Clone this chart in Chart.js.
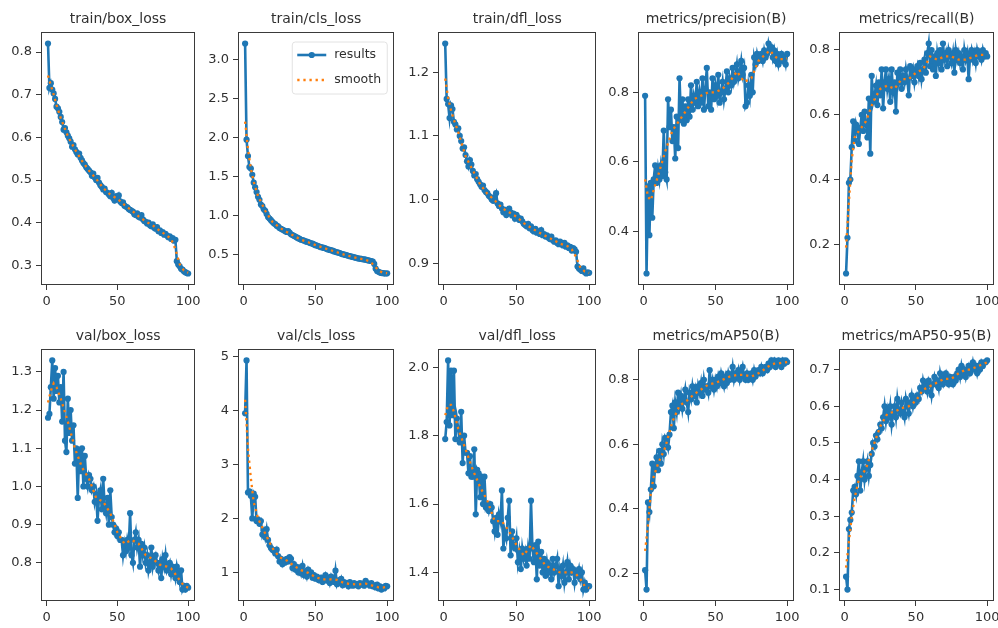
<!DOCTYPE html>
<html>
<head>
<meta charset="utf-8">
<script src="https://cdn.jsdelivr.net/npm/chart.js@4.4.1/dist/chart.umd.min.js"></script>
<style>
html,body{margin:0;padding:0;background:#fff;width:998px;height:628px;overflow:hidden;position:relative;}
.p{position:absolute;}
canvas{display:block;}
</style>
</head>
<body>
<script>
// ---------------- DATA ----------------
const epochs = [1,2,3,4,5,6,7,8,9,10,11,12,13,14,15,16,17,18,19,20,
  21,22,23,24,25,26,27,28,29,30,31,32,33,34,35,36,37,38,39,40,
  41,42,43,44,45,46,47,48,49,50,51,52,53,54,55,56,57,58,59,60,
  61,62,63,64,65,66,67,68,69,70,71,72,73,74,75,76,77,78,79,80,
  81,82,83,84,85,86,87,88,89,90,91,92,93,94,95,96,97,98,99,100];

const trainBoxLoss = [0.820,0.716,0.727,0.712,0.703,0.690,0.672,0.668,0.660,0.648,
  0.636,0.618,0.622,0.612,0.604,0.598,0.590,0.578,0.582,0.572,
  0.566,0.560,0.562,0.552,0.546,0.540,0.536,0.530,0.526,0.522,
  0.518,0.510,0.515,0.506,0.500,0.505,0.494,0.488,0.484,0.478,
  0.480,0.472,0.470,0.466,0.462,0.470,0.458,0.452,0.462,0.455,
  0.464,0.450,0.446,0.448,0.440,0.438,0.436,0.432,0.430,0.428,
  0.426,0.420,0.418,0.422,0.414,0.412,0.418,0.408,0.404,0.402,
  0.398,0.400,0.394,0.392,0.396,0.388,0.386,0.390,0.380,0.382,
  0.376,0.378,0.372,0.374,0.370,0.366,0.368,0.362,0.364,0.358,
  0.360,0.310,0.302,0.298,0.292,0.290,0.286,0.284,0.282,0.281];

const trainClsLoss = [3.20,1.97,1.76,1.62,1.60,1.52,1.42,1.36,1.30,1.24,
  1.20,1.14,1.12,1.08,1.06,1.02,0.98,0.96,0.94,0.92,
  0.90,0.89,0.87,0.86,0.84,0.83,0.82,0.81,0.80,0.79,
  0.80,0.78,0.76,0.75,0.74,0.73,0.72,0.71,0.70,0.69,
  0.685,0.68,0.67,0.665,0.66,0.65,0.645,0.64,0.63,0.62,
  0.615,0.61,0.60,0.595,0.59,0.585,0.58,0.57,0.565,0.56,
  0.555,0.55,0.54,0.535,0.53,0.525,0.52,0.51,0.505,0.50,
  0.495,0.49,0.485,0.48,0.475,0.47,0.465,0.46,0.455,0.45,
  0.448,0.445,0.44,0.438,0.435,0.43,0.425,0.42,0.418,0.41,
  0.38,0.32,0.29,0.28,0.27,0.265,0.262,0.26,0.258,0.26];

const trainDflLoss = [1.245,1.158,1.150,1.128,1.148,1.142,1.122,1.118,1.110,1.112,
  1.100,1.092,1.080,1.082,1.070,1.060,1.052,1.062,1.055,1.045,
  1.038,1.040,1.032,1.028,1.024,1.020,1.022,1.015,1.012,1.010,
  1.006,1.004,1.000,0.998,1.004,1.010,0.994,0.990,0.992,0.986,
  0.980,0.984,0.976,0.982,0.986,0.980,0.975,0.978,0.970,0.976,
  0.972,0.968,0.970,0.966,0.962,0.960,0.958,0.962,0.955,0.958,
  0.952,0.950,0.954,0.948,0.950,0.946,0.952,0.944,0.946,0.942,
  0.944,0.940,0.938,0.942,0.936,0.934,0.936,0.932,0.930,0.934,
  0.930,0.928,0.932,0.926,0.928,0.924,0.926,0.920,0.924,0.922,
  0.918,0.895,0.892,0.890,0.888,0.892,0.886,0.884,0.886,0.885];

const precisionB = [0.79,0.28,0.53,0.39,0.54,0.44,0.55,0.59,0.54,0.58,
  0.55,0.59,0.56,0.69,0.57,0.55,0.78,0.70,0.75,0.66,
  0.70,0.61,0.73,0.64,0.84,0.72,0.78,0.71,0.76,0.72,
  0.78,0.73,0.82,0.75,0.79,0.77,0.83,0.76,0.80,0.77,
  0.84,0.75,0.81,0.87,0.76,0.80,0.75,0.84,0.78,0.82,
  0.79,0.85,0.77,0.80,0.83,0.78,0.81,0.86,0.80,0.84,
  0.82,0.87,0.83,0.85,0.88,0.84,0.86,0.89,0.85,0.87,
  0.76,0.77,0.82,0.79,0.85,0.80,0.90,0.88,0.91,0.89,
  0.90,0.91,0.89,0.92,0.90,0.91,0.94,0.92,0.93,0.90,
  0.92,0.89,0.91,0.88,0.90,0.91,0.89,0.90,0.88,0.91];

const recallB = [0.11,0.22,0.39,0.40,0.50,0.58,0.52,0.57,0.55,0.51,
  0.56,0.60,0.55,0.61,0.57,0.53,0.65,0.48,0.72,0.64,
  0.66,0.69,0.63,0.70,0.66,0.74,0.62,0.70,0.74,0.68,
  0.71,0.64,0.74,0.67,0.70,0.61,0.73,0.70,0.74,0.68,
  0.72,0.70,0.74,0.71,0.66,0.75,0.72,0.74,0.70,0.73,
  0.75,0.72,0.76,0.71,0.74,0.77,0.73,0.79,0.82,0.75,
  0.80,0.74,0.78,0.72,0.79,0.76,0.80,0.74,0.82,0.77,
  0.79,0.75,0.80,0.78,0.76,0.79,0.73,0.80,0.77,0.79,
  0.76,0.78,0.74,0.80,0.77,0.79,0.71,0.78,0.80,0.77,
  0.79,0.76,0.80,0.78,0.79,0.77,0.80,0.78,0.79,0.78];

const valBoxLoss = [1.18,1.19,1.26,1.33,1.23,1.31,1.25,1.29,1.22,1.26,
  1.17,1.30,1.12,1.09,1.23,1.14,1.20,1.12,1.16,1.06,
  1.10,0.97,1.09,1.04,1.10,1.00,1.08,1.02,1.00,1.03,
  1.02,0.99,1.00,0.96,0.98,0.91,0.97,0.99,0.94,1.02,
  0.95,0.93,0.97,0.90,0.99,0.92,0.90,0.88,0.89,0.87,
  0.88,0.86,0.86,0.82,0.85,0.83,0.86,0.84,0.93,0.82,
  0.80,0.86,0.88,0.84,0.86,0.79,0.85,0.82,0.84,0.80,
  0.82,0.78,0.80,0.84,0.79,0.81,0.82,0.80,0.78,0.80,
  0.76,0.81,0.79,0.82,0.78,0.79,0.80,0.77,0.79,0.78,
  0.76,0.79,0.77,0.75,0.78,0.73,0.74,0.73,0.74,0.735];

const valClsLoss = [3.95,4.93,2.48,2.50,2.42,2.00,2.46,2.40,1.95,1.98,
  1.90,1.95,1.70,1.78,1.65,1.80,1.60,1.50,1.45,1.42,
  1.40,1.35,1.42,1.30,1.20,1.25,1.15,1.22,1.18,1.25,
  1.20,1.28,1.25,1.08,1.15,1.05,1.10,1.00,1.08,0.98,
  1.12,0.95,1.02,0.92,1.05,0.98,1.00,0.90,0.95,0.88,
  0.92,0.86,0.85,0.90,0.82,0.88,0.95,0.85,0.90,0.80,
  0.92,0.85,0.82,1.03,0.78,0.85,0.80,0.88,0.76,0.82,
  0.78,0.80,0.74,0.82,0.78,0.75,0.80,0.76,0.78,0.74,
  0.80,0.77,0.79,0.75,0.84,0.80,0.78,0.75,0.80,0.74,
  0.76,0.72,0.77,0.70,0.74,0.68,0.72,0.70,0.75,0.74];

const valDflLoss = [1.79,1.84,2.02,1.83,1.99,1.86,1.99,1.79,1.85,1.82,
  1.78,1.87,1.72,1.80,1.75,1.75,1.69,1.74,1.68,1.68,
  1.76,1.57,1.70,1.69,1.62,1.68,1.60,1.68,1.59,1.60,
  1.58,1.60,1.59,1.55,1.52,1.56,1.51,1.57,1.55,1.64,
  1.47,1.52,1.50,1.56,1.61,1.45,1.52,1.48,1.47,1.50,
  1.43,1.46,1.41,1.47,1.44,1.46,1.42,1.47,1.44,1.61,
  1.47,1.43,1.48,1.38,1.49,1.42,1.46,1.40,1.44,1.39,
  1.43,1.40,1.42,1.38,1.44,1.40,1.42,1.44,1.36,1.41,
  1.39,1.42,1.37,1.40,1.43,1.38,1.42,1.40,1.41,1.37,
  1.40,1.39,1.41,1.38,1.40,1.35,1.37,1.35,1.36,1.36];

const mAP50B = [0.21,0.15,0.42,0.39,0.46,0.54,0.47,0.53,0.56,0.52,
  0.58,0.54,0.60,0.57,0.62,0.61,0.59,0.63,0.70,0.72,
  0.65,0.73,0.70,0.76,0.72,0.75,0.71,0.74,0.77,0.73,
  0.70,0.76,0.74,0.78,0.75,0.77,0.73,0.78,0.76,0.79,
  0.75,0.80,0.77,0.78,0.76,0.83,0.78,0.80,0.77,0.80,
  0.78,0.81,0.79,0.82,0.80,0.78,0.81,0.79,0.82,0.80,
  0.81,0.84,0.80,0.82,0.81,0.83,0.80,0.82,0.84,0.81,
  0.80,0.82,0.80,0.81,0.82,0.80,0.83,0.81,0.82,0.83,
  0.82,0.84,0.82,0.83,0.84,0.83,0.85,0.84,0.86,0.85,
  0.86,0.84,0.85,0.86,0.85,0.84,0.86,0.85,0.86,0.855];

const mAP5095B = [0.135,0.10,0.265,0.29,0.31,0.37,0.38,0.36,0.41,0.45,
  0.37,0.42,0.45,0.40,0.43,0.45,0.41,0.44,0.47,0.50,
  0.49,0.52,0.51,0.53,0.55,0.54,0.57,0.60,0.56,0.59,
  0.57,0.60,0.55,0.58,0.60,0.57,0.62,0.59,0.58,0.61,
  0.59,0.57,0.62,0.60,0.58,0.61,0.63,0.60,0.62,0.61,
  0.63,0.62,0.65,0.64,0.67,0.65,0.66,0.64,0.67,0.66,
  0.63,0.66,0.68,0.66,0.67,0.65,0.69,0.67,0.66,0.68,
  0.69,0.67,0.66,0.68,0.67,0.66,0.68,0.67,0.69,0.70,
  0.68,0.71,0.69,0.70,0.68,0.70,0.71,0.69,0.70,0.72,
  0.70,0.71,0.69,0.71,0.70,0.72,0.71,0.72,0.72,0.725];

// smoothed curves, read at these epochs
const smoothEpochs = [1,3,5,7,10,15,20,25,30,35,40,45,50,55,60,65,70,75,80,85,88,91,94,97,100];
const trainBoxLossSmooth = [0.745,0.722,0.700,0.676,0.645,0.603,0.572,0.545,0.522,0.503,0.481,0.466,0.456,0.442,0.429,0.415,0.403,0.394,0.381,0.370,0.362,0.338,0.303,0.288,0.283];
const trainClsLossSmooth = [2.20,1.85,1.60,1.43,1.25,1.06,0.92,0.845,0.79,0.74,0.69,0.658,0.622,0.59,0.56,0.53,0.50,0.475,0.452,0.433,0.41,0.36,0.295,0.268,0.262];
const trainDflLossSmooth = [1.190,1.160,1.140,1.125,1.106,1.068,1.046,1.024,1.009,0.999,0.987,0.980,0.973,0.963,0.956,0.949,0.943,0.937,0.931,0.927,0.922,0.910,0.893,0.887,0.885];
const precisionBSmooth = [0.55,0.50,0.49,0.52,0.56,0.63,0.69,0.72,0.75,0.78,0.79,0.80,0.80,0.81,0.83,0.86,0.83,0.84,0.89,0.91,0.92,0.905,0.895,0.895,0.897];
const recallBSmooth = [0.19,0.33,0.46,0.53,0.55,0.58,0.64,0.68,0.69,0.68,0.71,0.71,0.73,0.74,0.78,0.77,0.78,0.78,0.77,0.77,0.775,0.78,0.785,0.785,0.785];
const valBoxLossSmooth = [1.22,1.25,1.27,1.26,1.23,1.17,1.10,1.05,1.02,0.97,0.96,0.93,0.88,0.85,0.86,0.85,0.82,0.81,0.795,0.79,0.785,0.77,0.755,0.74,0.735];
const valClsLossSmooth = [4.20,3.30,2.75,2.30,2.00,1.72,1.45,1.28,1.22,1.12,1.04,0.99,0.91,0.87,0.87,0.86,0.80,0.78,0.775,0.79,0.77,0.74,0.72,0.715,0.73];
const valDflLossSmooth = [1.86,1.89,1.89,1.87,1.82,1.76,1.70,1.65,1.61,1.55,1.55,1.52,1.48,1.45,1.48,1.45,1.42,1.41,1.40,1.40,1.40,1.395,1.38,1.36,1.355];
const mAP50BSmooth = [0.27,0.35,0.45,0.50,0.54,0.59,0.67,0.72,0.735,0.755,0.77,0.785,0.79,0.80,0.81,0.815,0.815,0.81,0.82,0.835,0.845,0.85,0.851,0.853,0.855];
const mAP5095BSmooth = [0.16,0.23,0.30,0.35,0.40,0.43,0.49,0.545,0.58,0.585,0.595,0.60,0.615,0.645,0.655,0.665,0.675,0.675,0.69,0.70,0.70,0.705,0.71,0.715,0.72];

// tick values and labels
const xTickValues = [0,50,100];
const xTickLabels = ['0','50','100'];
const trainBoxTicks = [0.3,0.4,0.5,0.6,0.7,0.8];
const trainBoxTickLabels = ['0.3','0.4','0.5','0.6','0.7','0.8'];
const trainClsTicks = [0.5,1.0,1.5,2.0,2.5,3.0];
const trainClsTickLabels = ['0.5','1.0','1.5','2.0','2.5','3.0'];
const trainDflTicks = [0.9,1.0,1.1,1.2];
const trainDflTickLabels = ['0.9','1.0','1.1','1.2'];
const precisionTicks = [0.4,0.6,0.8];
const precisionTickLabels = ['0.4','0.6','0.8'];
const recallTicks = [0.2,0.4,0.6,0.8];
const recallTickLabels = ['0.2','0.4','0.6','0.8'];
const valBoxTicks = [0.8,0.9,1.0,1.1,1.2,1.3];
const valBoxTickLabels = ['0.8','0.9','1.0','1.1','1.2','1.3'];
const valClsTicks = [1,2,3,4,5];
const valClsTickLabels = ['1','2','3','4','5'];
const valDflTicks = [1.4,1.6,1.8,2.0];
const valDflTickLabels = ['1.4','1.6','1.8','2.0'];
const mAP50Ticks = [0.2,0.4,0.6,0.8];
const mAP50TickLabels = ['0.2','0.4','0.6','0.8'];
const mAP5095Ticks = [0.1,0.2,0.3,0.4,0.5,0.6,0.7];
const mAP5095TickLabels = ['0.1','0.2','0.3','0.4','0.5','0.6','0.7'];

const titles = ['train/box_loss','train/cls_loss','train/dfl_loss','metrics/precision(B)','metrics/recall(B)',
  'val/box_loss','val/cls_loss','val/dfl_loss','metrics/mAP50(B)','metrics/mAP50-95(B)'];
const legendLabels = ['results','smooth'];

// ---------------- LAYOUT / STYLE ----------------
const BLUE = '#1f77b4', ORANGE = '#ff7f0e', TXT = '#303030', AX = '#3a3a3a';
const FONT = "'DejaVu Sans', sans-serif";
Chart.defaults.font.family = FONT;
Chart.defaults.color = TXT;

const PAD_L = 46, PAD_T = 30, PAD_B = 30, PAD_R = 14;
const colX = [[41,150],[238,152],[438,154],[638,152],[839,151]];
const rowY = [[32,253],[349,252]];

const panels = [
  {v: trainBoxLoss, s: trainBoxLossSmooth, t: trainBoxTicks, l: trainBoxTickLabels},
  {v: trainClsLoss, s: trainClsLossSmooth, t: trainClsTicks, l: trainClsTickLabels, legend: true},
  {v: trainDflLoss, s: trainDflLossSmooth, t: trainDflTicks, l: trainDflTickLabels},
  {v: precisionB, s: precisionBSmooth, t: precisionTicks, l: precisionTickLabels},
  {v: recallB, s: recallBSmooth, t: recallTicks, l: recallTickLabels},
  {v: valBoxLoss, s: valBoxLossSmooth, t: valBoxTicks, l: valBoxTickLabels},
  {v: valClsLoss, s: valClsLossSmooth, t: valClsTicks, l: valClsTickLabels},
  {v: valDflLoss, s: valDflLossSmooth, t: valDflTicks, l: valDflTickLabels},
  {v: mAP50B, s: mAP50BSmooth, t: mAP50Ticks, l: mAP50TickLabels},
  {v: mAP5095B, s: mAP5095BSmooth, t: mAP5095Ticks, l: mAP5095TickLabels}
];

const frameBox = {
  id: 'frameBox',
  afterDraw(chart) {
    const a = chart.chartArea, c = chart.ctx;
    c.save();
    c.strokeStyle = AX; c.lineWidth = 1;
    c.strokeRect(Math.round(a.left) + 0.5, Math.round(a.top) + 0.5,
                 Math.round(a.right - a.left) - 1, Math.round(a.bottom - a.top) - 1);
    c.restore();
  }
};

const insideLegend = {
  id: 'insideLegend',
  afterDraw(chart, args, opts) {
    if (!opts || !opts.show) return;
    const a = chart.chartArea, c = chart.ctx;
    const x0 = a.right - 102, y0 = a.top + 10, w = 95, h = 52, r = 3;
    c.save();
    c.beginPath();
    c.moveTo(x0 + r, y0); c.lineTo(x0 + w - r, y0); c.quadraticCurveTo(x0 + w, y0, x0 + w, y0 + r);
    c.lineTo(x0 + w, y0 + h - r); c.quadraticCurveTo(x0 + w, y0 + h, x0 + w - r, y0 + h);
    c.lineTo(x0 + r, y0 + h); c.quadraticCurveTo(x0, y0 + h, x0, y0 + h - r);
    c.lineTo(x0, y0 + r); c.quadraticCurveTo(x0, y0, x0 + r, y0);
    c.closePath();
    c.fillStyle = 'rgba(255,255,255,0.8)'; c.fill();
    c.strokeStyle = '#e2e2e2'; c.lineWidth = 1; c.stroke();
    const lx0 = x0 + 5, lx1 = x0 + 34, y1 = y0 + 13, y2 = y0 + 38;
    c.strokeStyle = BLUE; c.lineWidth = 2.6;
    c.beginPath(); c.moveTo(lx0, y1); c.lineTo(lx1, y1); c.stroke();
    c.fillStyle = BLUE; c.beginPath(); c.arc((lx0 + lx1) / 2, y1, 3.1, 0, Math.PI * 2); c.fill();
    c.strokeStyle = ORANGE; c.lineWidth = 2.3; c.setLineDash([2.3, 3.8]);
    c.beginPath(); c.moveTo(lx0, y2); c.lineTo(lx1, y2); c.stroke();
    c.setLineDash([]);
    c.fillStyle = TXT; c.font = "12.5px " + FONT; c.textBaseline = 'middle'; c.textAlign = 'left';
    c.fillText(legendLabels[0], x0 + 42, y1);
    c.fillText(legendLabels[1], x0 + 42, y2);
    c.restore();
  }
};

function labelFor(ticks, labels) {
  return function (value) {
    const i = ticks.findIndex(t => Math.abs(t - value) < 1e-9);
    return i >= 0 ? labels[i] : '';
  };
}

panels.forEach((p, k) => {
  const col = colX[k % 5], row = rowY[Math.floor(k / 5)];
  const W = col[1] + PAD_L + PAD_R, H = row[1] + PAD_T + PAD_B;
  const div = document.createElement('div');
  div.className = 'p';
  div.style.left = (col[0] - PAD_L) + 'px';
  div.style.top = (row[0] - PAD_T) + 'px';
  const cv = document.createElement('canvas');
  cv.width = W; cv.height = H;
  cv.style.width = W + 'px'; cv.style.height = H + 'px';
  div.appendChild(cv);
  document.body.appendChild(div);

  const all = p.v.concat(p.s);
  const lo = Math.min(...all), hi = Math.max(...all), span = hi - lo;

  new Chart(cv, {
    type: 'line',
    data: {
      datasets: [
        { label: legendLabels[1], data: smoothEpochs.map((e, i) => ({x: e, y: p.s[i]})),
          borderColor: ORANGE, backgroundColor: ORANGE, borderWidth: 2.3, borderDash: [2.3, 3.8],
          borderCapStyle: 'butt', pointRadius: 0, pointHoverRadius: 0, tension: 0, fill: false },
        { label: legendLabels[0], data: epochs.map((e, i) => ({x: e, y: p.v[i]})),
          borderColor: BLUE, backgroundColor: BLUE, borderWidth: 2.6,
          pointRadius: 3.1, pointBorderWidth: 0, pointHoverRadius: 0, tension: 0, fill: false }
      ]
    },
    options: {
      responsive: false, animation: false, maintainAspectRatio: false,
      devicePixelRatio: 1,
      events: [],
      layout: { padding: 0 },
      plugins: {
        legend: { display: false },
        tooltip: { enabled: false },
        title: { display: true, text: titles[k], fullSize: false, color: TXT,
                 font: { family: FONT, size: 14, weight: 'normal', lineHeight: '16px' },
                 padding: { top: 9, bottom: 5 } },
        insideLegend: { show: !!p.legend }
      },
      scales: {
        x: {
          type: 'linear', min: -3.95, max: 104.95,
          afterBuildTicks: s => { s.ticks = xTickValues.map(v => ({value: v})); },
          afterFit: s => { s.height = PAD_B; },
          ticks: { callback: labelFor(xTickValues, xTickLabels), font: { family: FONT, size: 13 }, color: TXT, padding: 4, maxRotation: 0 },
          grid: { display: true, drawOnChartArea: false, drawTicks: true, tickLength: 5, tickColor: AX, tickWidth: 1 },
          border: { display: false }
        },
        y: {
          type: 'linear', min: lo - 0.05 * span, max: hi + 0.05 * span,
          afterBuildTicks: s => { s.ticks = p.t.map(v => ({value: v})); },
          afterFit: s => { s.width = PAD_L; },
          ticks: { callback: labelFor(p.t, p.l), font: { family: FONT, size: 13 }, color: TXT, padding: 4 },
          grid: { display: true, drawOnChartArea: false, drawTicks: true, tickLength: 5, tickColor: AX, tickWidth: 1 },
          border: { display: false }
        }
      }
    },
    plugins: [frameBox, insideLegend]
  });
});
</script>
</body>
</html>
